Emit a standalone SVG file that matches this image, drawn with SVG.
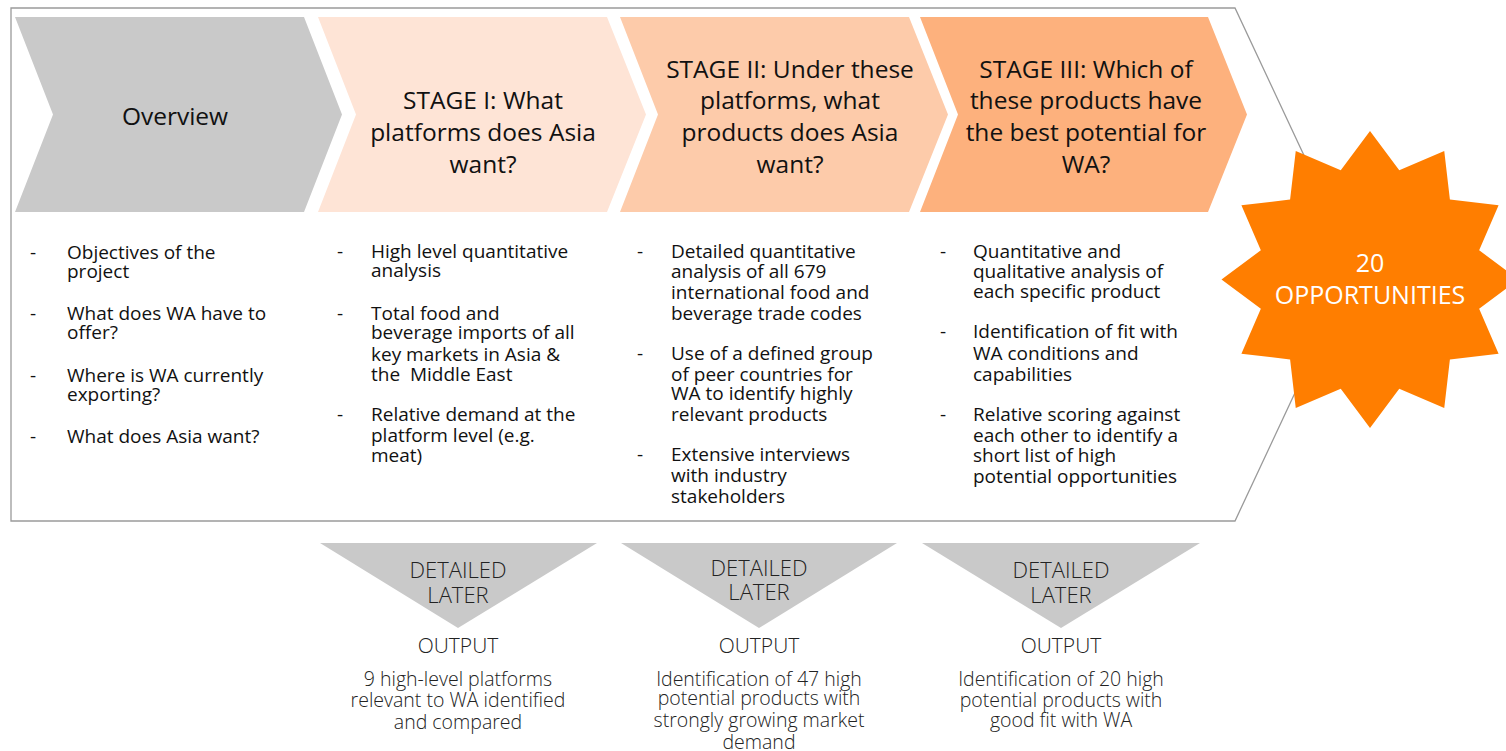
<svg xmlns="http://www.w3.org/2000/svg" width="1506" height="751" viewBox="0 0 1506 751">
<style>
.hdr{font-family:"Open Sans",Lato,"Liberation Sans",sans-serif;font-size:24.5px;fill:#111;text-anchor:middle}
.body{font-family:"Open Sans",Lato,"Liberation Sans",sans-serif;font-size:19px;fill:#111}
.lbl{font-family:"Open Sans",Lato,"Liberation Sans",sans-serif;font-weight:300;fill:#222;text-anchor:middle}
.dl{font-size:22px}
.out{font-size:21px}
.desc{font-size:19.5px}
.star{font-family:"Open Sans",Lato,"Liberation Sans",sans-serif;font-size:25px;fill:#fff;text-anchor:middle}
.tri{fill:#c9c9c9}
</style>
<g id="frame">
<path d="M11,8 L1235,8 L1355,264.5 L1235,521 L11,521 Z" fill="#fff" stroke="#9a9a9a" stroke-width="1.3"/>
</g>
<g id="overview">
<path d="M15,17 L304,17 L342,114.5 L304,212 L15,212 L53,114.5 Z" fill="#c9c9c9"/>
<text class="hdr" x="175" y="124.5">Overview</text>
</g>
<g id="stage1">
<path d="M318,17 L607,17 L646,114.5 L607,212 L318,212 L356,114.5 Z" fill="#fee4d6"/>
<text class="hdr" x="483" y="108.5">STAGE I: What</text>
<text class="hdr" x="483" y="140.5">platforms does Asia</text>
<text class="hdr" x="483" y="172.5">want?</text>
</g>
<g id="stage2">
<path d="M620,17 L909,17 L948,114.5 L909,212 L620,212 L658,114.5 Z" fill="#fdcbaa"/>
<text class="hdr" x="790" y="77.5">STAGE II: Under these</text>
<text class="hdr" x="790" y="108.5">platforms, what</text>
<text class="hdr" x="790" y="140.5">products does Asia</text>
<text class="hdr" x="790" y="172.5">want?</text>
</g>
<g id="stage3">
<path d="M920,17 L1208,17 L1247,114.5 L1208,212 L920,212 L958,114.5 Z" fill="#fdb17d"/>
<text class="hdr" x="1086" y="77.5">STAGE III: Which of</text>
<text class="hdr" x="1086" y="108.5">these products have</text>
<text class="hdr" x="1086" y="140.5">the best potential for</text>
<text class="hdr" x="1086" y="172.5">WA?</text>
</g>
<g id="bullets-overview" class="body">
<text x="30" y="259">-</text><text x="67" y="259">Objectives of the</text><text x="67" y="278">project</text>
<text x="30" y="320">-</text><text x="67" y="320">What does WA have to</text><text x="67" y="339">offer?</text>
<text x="30" y="382">-</text><text x="67" y="382">Where is WA currently</text><text x="67" y="401">exporting?</text>
<text x="30" y="443">-</text><text x="67" y="443">What does Asia want?</text>
</g>
<g id="bullets-stage1" class="body">
<text x="337" y="258">-</text><text x="371" y="258">High level quantitative</text><text x="371" y="277">analysis</text>
<text x="337" y="320">-</text><text x="371" y="320">Total food and</text><text x="371" y="339">beverage imports of all</text><text x="371" y="361">key markets in Asia &amp;</text><text x="371" y="381" xml:space="preserve">the  Middle East</text>
<text x="337" y="421">-</text><text x="371" y="421">Relative demand at the</text><text x="371" y="442">platform level (e.g.</text><text x="371" y="462">meat)</text>
</g>
<g id="bullets-stage2" class="body">
<text x="637" y="258">-</text><text x="671" y="258">Detailed quantitative</text><text x="671" y="278">analysis of all 679</text><text x="671" y="299">international food and</text><text x="671" y="320">beverage trade codes</text>
<text x="637" y="360">-</text><text x="671" y="360">Use of a defined group</text><text x="671" y="381">of peer countries for</text><text x="671" y="400">WA to identify highly</text><text x="671" y="421">relevant products</text>
<text x="637" y="461">-</text><text x="671" y="461">Extensive interviews</text><text x="671" y="482">with industry</text><text x="671" y="503">stakeholders</text>
</g>
<g id="bullets-stage3" class="body">
<text x="940" y="258">-</text><text x="973" y="258">Quantitative and</text><text x="973" y="278">qualitative analysis of</text><text x="973" y="298">each specific product</text>
<text x="940" y="338">-</text><text x="973" y="338">Identification of fit with</text><text x="973" y="360">WA conditions and</text><text x="973" y="381">capabilities</text>
<text x="940" y="421">-</text><text x="973" y="421">Relative scoring against</text><text x="973" y="442">each other to identify a</text><text x="973" y="462">short list of high</text><text x="973" y="483">potential opportunities</text>
</g>
<g id="opportunities">
<path d="M1370,131 L1399.25,170.35 L1444.25,150.9 L1449.9,199.6 L1498.6,205.25 L1479.15,250.25 L1518.5,279.5 L1479.15,308.75 L1498.6,353.75 L1449.9,359.4 L1444.25,408.1 L1399.25,388.65 L1370,428 L1340.75,388.65 L1295.75,408.1 L1290.1,359.4 L1241.4,353.75 L1260.85,308.75 L1221.5,279.5 L1260.85,250.25 L1241.4,205.25 L1290.1,199.6 L1295.75,150.9 L1340.75,170.35 Z" fill="#ff7e00"/>
<text class="star" x="1370" y="272">20</text>
<text class="star" x="1370" y="304">OPPORTUNITIES</text>
</g>
<g id="output1">
<path class="tri" d="M320,543 L597,543 L458,628 Z"/>
<text class="lbl dl" x="458" y="578">DETAILED</text>
<text class="lbl dl" x="458" y="603">LATER</text>
<text class="lbl out" x="458" y="652.5">OUTPUT</text>
<text class="lbl desc" x="458" y="686">9 high-level platforms</text>
<text class="lbl desc" x="458" y="707">relevant to WA identified</text>
<text class="lbl desc" x="458" y="729">and compared</text>
</g>
<g id="output2">
<path class="tri" d="M621,543 L897,543 L759,628 Z"/>
<text class="lbl dl" x="759" y="576">DETAILED</text>
<text class="lbl dl" x="759" y="600">LATER</text>
<text class="lbl out" x="759" y="652.5">OUTPUT</text>
<text class="lbl desc" x="759" y="686">Identification of 47 high</text>
<text class="lbl desc" x="759" y="705">potential products with</text>
<text class="lbl desc" x="759" y="727">strongly growing market</text>
<text class="lbl desc" x="759" y="749">demand</text>
</g>
<g id="output3">
<path class="tri" d="M922,543 L1200,543 L1061,628 Z"/>
<text class="lbl dl" x="1061" y="578">DETAILED</text>
<text class="lbl dl" x="1061" y="603">LATER</text>
<text class="lbl out" x="1061" y="652.5">OUTPUT</text>
<text class="lbl desc" x="1061" y="686">Identification of 20 high</text>
<text class="lbl desc" x="1061" y="707">potential products with</text>
<text class="lbl desc" x="1061" y="727">good fit with WA</text>
</g>
<g id="connectors"></g>
</svg>
